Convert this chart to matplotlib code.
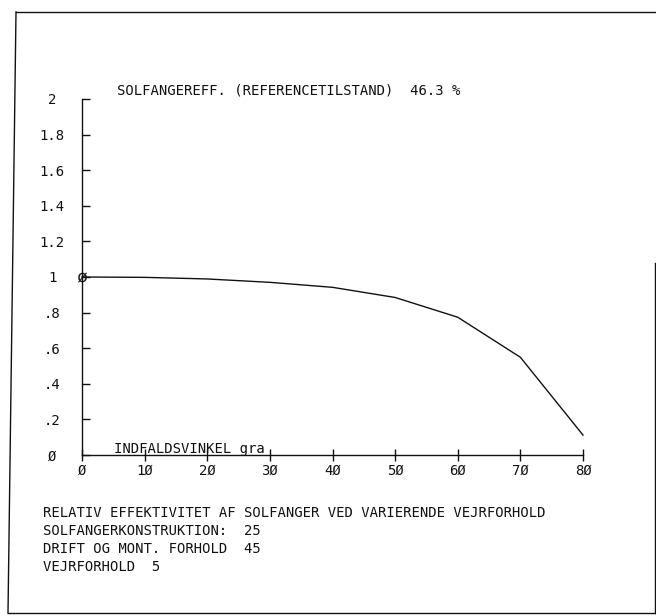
"""
Relativ effektivitet af solfanger - plotter-udskrift genskabt
"""
import matplotlib
matplotlib.use('Agg')
from matplotlib import pyplot as plt
from matplotlib.lines import Line2D

# data aflæst fra plottet
vinkel = [0, 10, 20, 30, 40, 50, 60, 70, 80]
rel_eff = [1.0, 0.998, 0.989, 0.970, 0.942, 0.885, 0.774, 0.549, 0.112]

x_ticks = [0, 10, 20, 30, 40, 50, 60, 70, 80]
x_labels = ['Ø', '1Ø', '2Ø', '3Ø', '4Ø', '5Ø', '6Ø', '7Ø', '8Ø']
y_ticks = [0, 0.2, 0.4, 0.6, 0.8, 1.0, 1.2, 1.4, 1.6, 1.8, 2.0]
y_labels = ['Ø', '.2', '.4', '.6', '.8', '1', '1.2', '1.4', '1.6', '1.8', '2']

titel = 'SOLFANGEREFF. (REFERENCETILSTAND)  46.3 %'
x_titel = 'INDFALDSVINKEL gra'
bund_tekst = ['RELATIV EFFEKTIVITET AF SOLFANGER VED VARIERENDE VEJRFORHOLD',
              'SOLFANGERKONSTRUKTION:  25',
              'DRIFT OG MONT. FORHOLD  45',
              'VEJRFORHOLD  5']

W, H = 656, 616
FONT = 'DejaVu Sans Mono'
FS = 10
INK = '#111111'


def fx(px):
    return px / W


def fy(py):
    return 1 - py / H


fig = plt.figure(figsize=(W / 100, H / 100), dpi=100)
fig.patch.set_facecolor('white')

# akse-rammen: x 0..80 -> 82..583 px, y 0..2 -> 455..99 px
ax = fig.add_axes([fx(82), fy(455), (583 - 82) / W, (455 - 99) / H])
ax.set_xlim(0, 80)
ax.set_ylim(0, 2)
ax.set_facecolor('none')
for s in ['top', 'right']:
    ax.spines[s].set_visible(False)
for s in ['left', 'bottom']:
    ax.spines[s].set_color(INK)
    ax.spines[s].set_linewidth(1.0)

ax.plot(vinkel, rel_eff, color=INK, lw=1.0, clip_on=False)
# startpunktet er markeret med et lille Ø
ax.plot(vinkel[:1], rel_eff[:1], ls='none', marker=r'$\mathrm{\O}$', ms=7,
        mew=0.2, color=INK, clip_on=False)

ax.set_xticks(x_ticks)
ax.set_xticklabels(x_labels, fontfamily=FONT, fontsize=FS, color=INK)
ax.set_yticks(y_ticks)
ax.set_yticklabels(y_labels, fontfamily=FONT, fontsize=FS, color=INK)
ax.tick_params(axis='x', direction='inout', length=9, width=1.0, pad=2,
               color=INK)
ax.tick_params(axis='y', direction='in', length=5.5, width=1.0, pad=21.5,
               color=INK)
for lab in ax.get_yticklabels():
    lab.set_ha('center')

fig.text(fx(117), fy(90), titel, fontfamily=FONT, fontsize=FS, color=INK,
         ha='left', va='center')
fig.text(fx(114), fy(453), x_titel, fontfamily=FONT, fontsize=FS, color=INK,
         ha='left', va='baseline')

for i, linje in enumerate(bund_tekst):
    fig.text(fx(43), fy(513 + i * 18), linje, fontfamily=FONT, fontsize=FS,
             color=INK, ha='left', va='center')

# papirkant
kant = dict(color=INK, lw=1.0, transform=fig.transFigure)
fig.add_artist(Line2D([fx(16), fx(656)], [fy(12), fy(12)], **kant))
fig.add_artist(Line2D([fx(16), fx(8)], [fy(12), fy(613)], **kant))
fig.add_artist(Line2D([fx(8), fx(656)], [fy(613), fy(613)], **kant))
fig.add_artist(Line2D([fx(655), fx(655)], [fy(263), fy(613)], **kant))

plt.savefig('out.png', dpi=100)
plt.close()
